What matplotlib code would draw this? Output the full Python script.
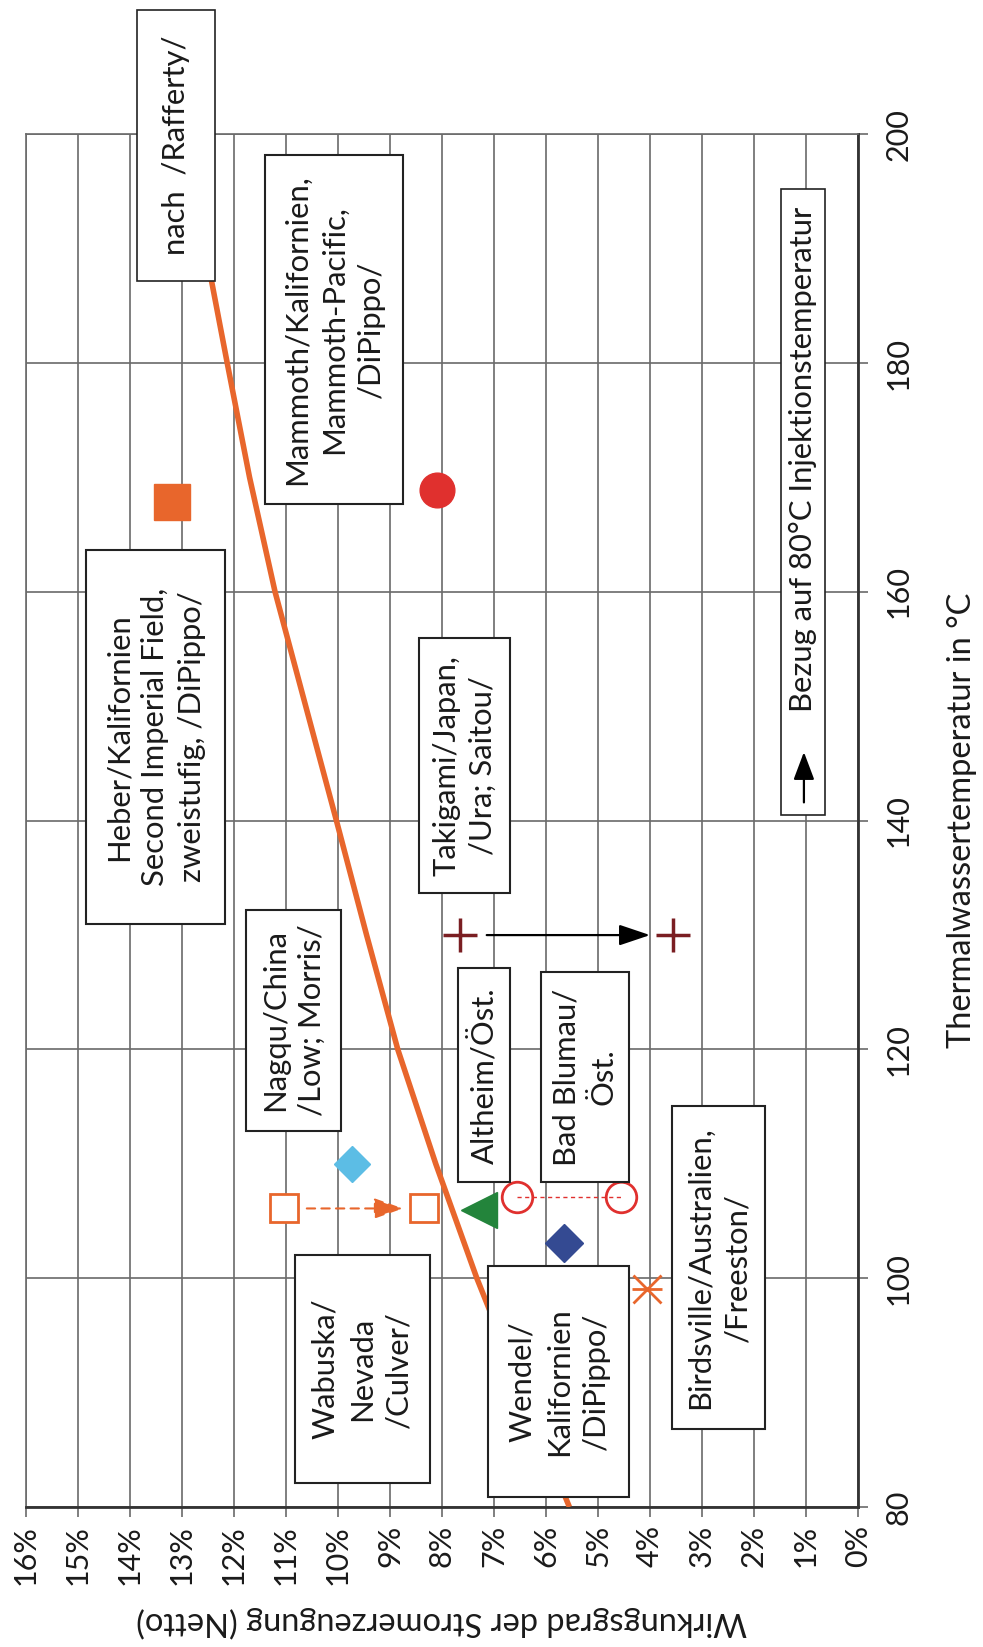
import matplotlib
matplotlib.use("Agg")
import matplotlib.pyplot as plt
from matplotlib.patches import Rectangle

plt.rcParams["font.family"] = ["Lato", "DejaVu Sans"]

# Reference curve after Rafferty: thermal water temperature (°C) -> net efficiency (%)
curve_temp = [80, 90, 100, 110, 120, 130, 140, 150, 160, 170, 180, 190, 200]
curve_eff = [5.55, 6.45, 7.33, 8.12, 8.85, 9.45, 10.03, 10.62, 11.21, 11.70, 12.13, 12.55, 12.95]

# Individual plants (temperature in °C, net efficiency in %)
heber_temp, heber_eff = 167.9, 13.2
mammoth_temp, mammoth_eff = 168.9, 8.1
takigami_temp, takigami_eff = 130.0, [7.65, 3.56]
nagqu_temp, nagqu_eff = 110.0, 9.74
wabuska_temp, wabuska_eff = 106.1, [11.04, 8.34]
altheim_temp, altheim_eff = 106.0, 7.29
blumau_temp, blumau_eff = 107.1, [6.55, 4.56]
wendel_temp, wendel_eff = 103.1, 5.66
birdsville_temp, birdsville_eff = 99.05, 4.05

eff_ticks = list(range(0, 17))
eff_labels = [f"{v}%" for v in eff_ticks]
temp_ticks = [80, 100, 120, 140, 160, 180, 200]

ORANGE = "#E8662C"
RED = "#E0302E"
DARKRED = "#7A1E22"
LIGHTBLUE = "#5CBDE5"
DARKBLUE = "#344A92"
GREEN = "#23843B"
GRID = "#6a6a6a"

W, H = 983, 1647
fig = plt.figure(figsize=(W / 100, H / 100), dpi=100)
ax = fig.add_axes([26 / W, 140 / H, (858 - 26) / W, (1507 - 134.4) / H])

ax.set_xlim(16, 0)
ax.set_ylim(80, 200)
ax.set_xticks(eff_ticks)
ax.set_xticklabels(eff_labels, rotation=90)
ax.set_yticks(temp_ticks)
ax.set_yticklabels([str(t) for t in temp_ticks], rotation=90, va="center")
ax.yaxis.tick_right()
ax.yaxis.set_label_position("right")
ax.tick_params(axis="both", direction="out", length=7, width=1.2, color=GRID,
               labelsize=22, labelcolor="#1a1a1a")
ax.tick_params(axis="x", pad=6)
ax.tick_params(axis="y", pad=12)
ax.grid(True, color=GRID, lw=1.2, zorder=0)
ax.set_axisbelow(True)
for side in ("left", "top"):
    ax.spines[side].set_color(GRID)
    ax.spines[side].set_linewidth(1.2)
for side in ("right", "bottom"):
    ax.spines[side].set_color("#333333")
    ax.spines[side].set_linewidth(2.0)

ax.set_xlabel("Wirkungsgrad der Stromerzeugung (Netto)", fontsize=23.5,
              rotation=180, labelpad=15, color="#1a1a1a")
ax.set_ylabel("Thermalwassertemperatur in °C", fontsize=23.5, rotation=90,
              labelpad=25, color="#1a1a1a")

# Rafferty curve
ax.plot(curve_eff, curve_temp, color=ORANGE, lw=4.0, zorder=4,
        solid_capstyle="butt")

# Plant markers
ax.plot(heber_eff, heber_temp, marker="s", ms=26, color=ORANGE, ls="none", zorder=3)
ax.plot(mammoth_eff, mammoth_temp, marker="o", ms=25, color=RED, ls="none", zorder=3)
ax.plot(takigami_eff, [takigami_temp] * 2, marker="+", ms=25, mew=2.5,
        color=DARKRED, ls="none", zorder=3)
ax.plot(nagqu_eff, nagqu_temp, marker="D", ms=18.5, color=LIGHTBLUE, ls="none", zorder=3)
ax.plot(wabuska_eff, [wabuska_temp] * 2, marker="s", ms=19.5, mew=2, mfc="white",
        mec=ORANGE, ls="none", zorder=3)
ax.plot(altheim_eff, altheim_temp, marker="<", ms=26, color=GREEN, ls="none", zorder=3)
ax.plot(blumau_eff, [blumau_temp] * 2, color=RED, lw=1, ls=(0, (3, 2.5)), zorder=2)
ax.plot(blumau_eff, [blumau_temp] * 2, marker="o", ms=22, mew=2, mfc="none",
        mec=RED, ls="none", zorder=3)
ax.plot(wendel_eff, wendel_temp, marker="D", ms=19, color=DARKBLUE, ls="none", zorder=3)
ax.plot(birdsville_eff, birdsville_temp, marker="x", ms=20, mew=2, color=ORANGE,
        ls="none", zorder=3)
ax.plot(birdsville_eff, birdsville_temp, marker="_", ms=22, mew=2, color=ORANGE,
        ls="none", zorder=3)

# Shift arrows
ax.annotate("", xy=(8.75, wabuska_temp), xytext=(10.6, wabuska_temp),
            arrowprops=dict(arrowstyle="-|>,head_length=0.9,head_width=0.32",
                            mutation_scale=20, color=ORANGE, lw=1.5, ls=(0, (4, 3)),
                            shrinkA=0, shrinkB=0), zorder=3)
ax.annotate("", xy=(4.0, takigami_temp), xytext=(7.14, takigami_temp),
            arrowprops=dict(arrowstyle="-|>,head_length=0.95,head_width=0.32",
                            mutation_scale=20, color="black", lw=1.6,
                            shrinkA=0, shrinkB=0), zorder=3)


def label_box(e_left, e_right, t_bottom, t_top, text, size=22.3, tx=None, ty=None,
              clip=True, lw=1.5):
    ax.add_patch(Rectangle((min(e_left, e_right), t_bottom), abs(e_left - e_right),
                           t_top - t_bottom, facecolor="white", edgecolor="#222222",
                           lw=lw, zorder=5, clip_on=clip))
    cx = (e_left + e_right) / 2 if tx is None else tx
    cy = (t_bottom + t_top) / 2 if ty is None else ty
    ax.text(cx, cy, text, rotation=90, ha="center", va="center",
            multialignment="center", fontsize=size, linespacing=1.38,
            color="#1a1a1a", zorder=6, clip_on=False)


label_box(13.86, 12.36, 187.2, 210.9, "nach  /Rafferty/", clip=False, lw=1.2)
label_box(11.41, 8.75, 167.7, 198.2, "Mammoth/Kalifornien,\nMammoth-Pacific,\n/DiPippo/")
label_box(14.85, 12.18, 131.0, 163.7,
          "Heber/Kalifornien\nSecond Imperial Field,\nzweistufig, /DiPippo/")
label_box(8.44, 6.69, 133.7, 156.0, "Takigami/Japan,\n/Ura; Saitou/")
label_box(1.49, 0.63, 140.5, 195.2, "Bezug auf 80°C Injektionstemperatur",
          ty=171.6, lw=1.2)
ax.annotate("", xy=(1.04, 146.0), xytext=(1.04, 141.6),
            arrowprops=dict(arrowstyle="-|>,head_length=0.85,head_width=0.32",
                            mutation_scale=20, color="black", lw=1.6,
                            shrinkA=0, shrinkB=0), zorder=7)
label_box(11.76, 9.94, 112.9, 132.2, "Nagqu/China\n/Low; Morris/")
label_box(7.70, 6.69, 108.4, 127.1, "Altheim/Öst.")
label_box(6.10, 4.40, 108.4, 126.8, "Bad Blumau/\nÖst.")
label_box(3.58, 1.78, 86.8, 115.1, "Birdsville/Australien,\n/Freeston/")
label_box(10.83, 8.24, 82.1, 102.0, "Wabuska/\nNevada\n/Culver/")
label_box(7.11, 4.40, 80.9, 101.1, "Wendel/\nKalifornien\n/DiPippo/")

fig.savefig("out.png", dpi=100, facecolor="white")
